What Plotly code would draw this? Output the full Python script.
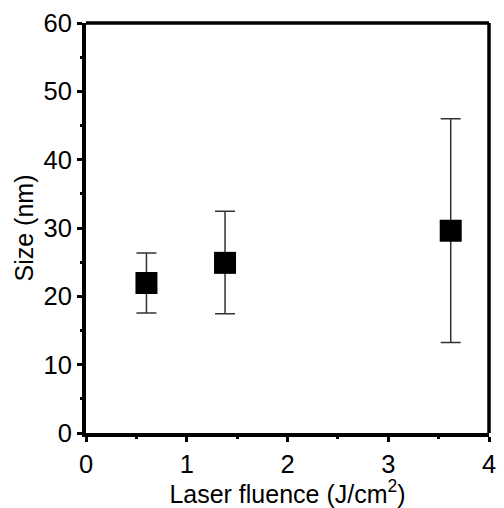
import plotly.graph_objects as go

fluence = [0.60, 1.38, 3.62]
size_nm = [21.95, 24.9, 29.6]
err_plus = [4.4, 7.55, 16.4]
err_minus = [4.4, 7.45, 16.35]

fig = go.Figure()
fig.add_trace(go.Scatter(
    x=fluence, y=size_nm, mode="markers",
    marker=dict(symbol="square", size=22, color="black"),
    error_y=dict(type="data", symmetric=False, array=err_plus, arrayminus=err_minus,
                 color="#333333", thickness=1.5, width=10),
    showlegend=False,
))

FAM = "Liberation Sans"
FT = dict(family=FAM, size=25, color="black")
FK = dict(family=FAM, size=25.5, color="black")
fig.update_layout(
    width=504, height=508,
    margin=dict(l=86, r=8, t=23, b=75),
    paper_bgcolor="white", plot_bgcolor="white",
    font=FT,
    xaxis=dict(range=[0, 4], tickmode="linear", tick0=0, dtick=1, showgrid=False, zeroline=False,
               showline=True, linewidth=4, linecolor="black", mirror=False,
               ticks="outside", ticklen=5, tickwidth=3, tickcolor="black",
               minor=dict(dtick=0.5, ticks="outside", ticklen=2, tickwidth=3, tickcolor="black"),
               title=dict(text="Laser fluence (J/cm<sup>2</sup>)", standoff=2, font=FT),
               tickfont=FK),
    yaxis=dict(range=[0, 60], tickmode="linear", tick0=0, dtick=10, showgrid=False, zeroline=False,
               showline=True, linewidth=4, linecolor="black", mirror=False,
               ticks="outside", ticklen=5, tickwidth=3, tickcolor="black",
               minor=dict(dtick=5, ticks="outside", ticklen=2, tickwidth=3, tickcolor="black"),
               title=dict(text="Size (nm)", standoff=4, font=FT),
               tickfont=FK),
)
fig.add_shape(type="line", xref="paper", yref="paper", x0=0, y0=1, x1=1, y1=1,
              line=dict(color="black", width=3.5), layer="above")
fig.add_shape(type="line", xref="paper", yref="paper", x0=1, y0=0, x1=1, y1=1,
              line=dict(color="black", width=3.5), layer="above")

fig.write_html("out.html")
